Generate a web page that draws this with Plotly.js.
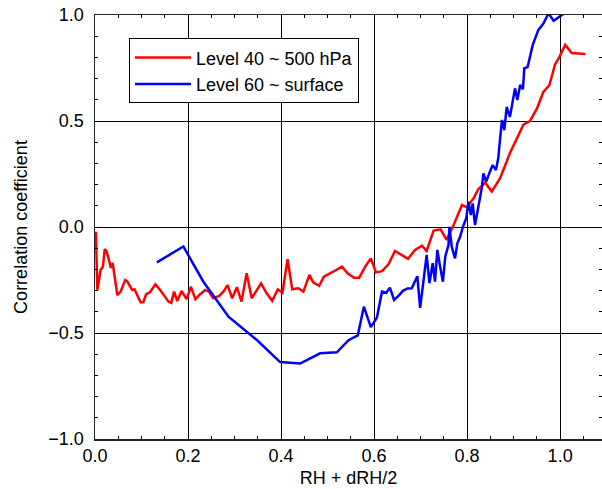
<!DOCTYPE html>
<html>
<head>
<meta charset="utf-8">
<script src="https://cdn.plot.ly/plotly-3.0.1.min.js"></script>
<style>html,body{margin:0;padding:0;background:#fff;}#chart{width:602px;height:489px;}</style>
</head>
<body>
<div id="chart"></div>
<script>
// Level 40 ~ 500 hPa (red)
const redX = [0.002,0.005,0.012,0.017,0.021,0.025,0.029,0.034,0.038,0.041,0.048,0.055,0.065,0.069,0.080,0.085,0.090,0.098,0.104,0.110,0.118,0.130,0.140,0.148,0.158,0.164,0.170,0.177,0.186,0.197,0.206,0.216,0.224,0.237,0.245,0.254,0.267,0.276,0.285,0.295,0.305,0.315,0.326,0.337,0.357,0.369,0.381,0.393,0.403,0.414,0.424,0.437,0.448,0.461,0.469,0.482,0.492,0.512,0.531,0.543,0.557,0.568,0.581,0.593,0.604,0.617,0.631,0.645,0.660,0.673,0.688,0.703,0.713,0.728,0.743,0.756,0.771,0.789,0.799,0.814,0.824,0.839,0.853,0.871,0.892,0.921,0.935,0.950,0.964,0.977,0.989,0.998,1.011,1.025,1.054];
const redY = [-0.022,-0.297,-0.203,-0.187,-0.104,-0.117,-0.146,-0.193,-0.170,-0.211,-0.321,-0.305,-0.250,-0.255,-0.297,-0.294,-0.321,-0.355,-0.355,-0.317,-0.308,-0.270,-0.297,-0.324,-0.352,-0.358,-0.305,-0.349,-0.302,-0.340,-0.282,-0.340,-0.321,-0.297,-0.305,-0.336,-0.325,-0.305,-0.274,-0.336,-0.284,-0.352,-0.218,-0.336,-0.266,-0.313,-0.348,-0.294,-0.310,-0.152,-0.294,-0.289,-0.305,-0.226,-0.261,-0.277,-0.234,-0.211,-0.187,-0.218,-0.239,-0.239,-0.187,-0.148,-0.214,-0.208,-0.176,-0.113,-0.132,-0.150,-0.108,-0.088,-0.113,-0.017,-0.011,-0.061,0.009,0.104,0.093,0.135,0.178,0.209,0.167,0.230,0.348,0.483,0.500,0.558,0.637,0.670,0.767,0.800,0.859,0.821,0.816];

// Level 60 ~ surface (blue)
const blueX = [0.133,0.190,0.233,0.287,0.348,0.398,0.441,0.484,0.520,0.545,0.565,0.578,0.593,0.606,0.617,0.626,0.634,0.643,0.654,0.662,0.672,0.681,0.693,0.699,0.706,0.713,0.719,0.726,0.731,0.736,0.742,0.748,0.753,0.760,0.762,0.767,0.774,0.779,0.785,0.791,0.798,0.803,0.808,0.812,0.817,0.824,0.832,0.835,0.841,0.849,0.855,0.862,0.867,0.871,0.875,0.880,0.885,0.892,0.903,0.908,0.914,0.920,0.923,0.930,0.941,0.953,0.964,0.975,0.986,1.007];
const blueY = [-0.167,-0.092,-0.258,-0.423,-0.533,-0.637,-0.644,-0.596,-0.591,-0.534,-0.511,-0.376,-0.472,-0.428,-0.305,-0.310,-0.286,-0.344,-0.321,-0.301,-0.290,-0.289,-0.232,-0.381,-0.258,-0.132,-0.265,-0.171,-0.258,-0.108,-0.187,-0.258,-0.140,-0.085,0.001,-0.093,-0.148,-0.077,-0.046,0.001,0.041,0.119,0.056,0.111,0.009,0.096,0.190,0.253,0.214,0.261,0.292,0.269,0.324,0.418,0.505,0.457,0.566,0.519,0.654,0.599,0.670,0.650,0.749,0.754,0.858,0.929,0.960,1.008,0.973,1.005];

const seriesNames = ["Level 40 ~ 500 hPa", "Level 60 ~ surface"];
const xTitle = "RH + dRH/2";
const yTitle = "Correlation coefficient";

const font = "Liberation Sans, Arial, sans-serif";

const traces = [
  {x: redX, y: redY, name: seriesNames[0], mode: "lines", type: "scatter",
   line: {color: "#ff0000", width: 2.5}},
  {x: blueX, y: blueY, name: seriesNames[1], mode: "lines", type: "scatter",
   line: {color: "#0000ff", width: 2.5}}
];

const layout = {
  width: 602, height: 489,
  margin: {l: 95, r: 0, t: 15, b: 50},
  paper_bgcolor: "#fff", plot_bgcolor: "#fff",
  font: {family: font, color: "#000", size: 18},
  showlegend: true,
  legend: {x: 0.067, y: 0.945, xanchor: "left", yanchor: "top",
    bordercolor: "#000", borderwidth: 1, bgcolor: "#fff", itemwidth: 56,
    font: {family: font, size: 18, color: "#000"}, tracegroupgap: 0},
  xaxis: {
    range: [0, 1.09], dtick: 0.2, tick0: 0, tickformat: ".1f",
    showgrid: true, gridcolor: "#000", gridwidth: 1, zeroline: false,
    showline: true, linecolor: "#222", linewidth: 1.5, mirror: "allticks",
    ticks: "inside", ticklen: 6, tickcolor: "#000",
    minor: {dtick: 0.05, ticks: "inside", ticklen: 3, tickcolor: "#000", showgrid: false},
    title: {text: xTitle, font: {size: 18}, standoff: 6},
    tickfont: {size: 18}
  },
  yaxis: {
    range: [-1, 1], dtick: 0.5, tick0: 0, tickformat: ".1f",
    showgrid: true, gridcolor: "#000", gridwidth: 1, zeroline: false,
    showline: true, linecolor: "#222", linewidth: 1.5, mirror: "allticks",
    ticks: "inside", ticklen: 6, tickcolor: "#000",
    minor: {dtick: 0.1, ticks: "inside", ticklen: 3, tickcolor: "#000", showgrid: false},
    title: {text: yTitle, font: {size: 18}, standoff: 16},
    tickfont: {size: 18}, ticklabelstandoff: 6
  }
};

Plotly.newPlot("chart", traces, layout, {displayModeBar: false, staticPlot: true});
</script>
</body>
</html>
